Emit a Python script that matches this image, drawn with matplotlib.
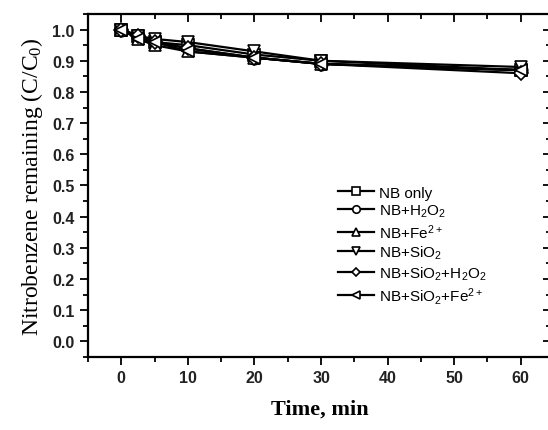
import numpy as np
import matplotlib
matplotlib.use("Agg")
import matplotlib.pyplot as plt
from matplotlib.ticker import MultipleLocator

# sampling times (min) and remaining fraction C/C0 for each run
time_min = [0, 2.5, 5, 10, 20, 30, 60]
nb_only = [1.00, 0.98, 0.96, 0.95, 0.92, 0.90, 0.87]
nb_h2o2 = [1.00, 0.98, 0.96, 0.94, 0.91, 0.89, 0.87]
nb_fe = [1.00, 0.97, 0.95, 0.93, 0.91, 0.89, 0.87]
nb_sio2 = [1.00, 0.98, 0.97, 0.96, 0.93, 0.90, 0.88]
nb_sio2_h2o2 = [1.00, 0.98, 0.96, 0.94, 0.91, 0.89, 0.86]
nb_sio2_fe = [1.00, 0.97, 0.96, 0.93, 0.91, 0.89, 0.87]

labels = [
    "NB only",
    r"NB+H$_2$O$_2$",
    r"NB+Fe$^{2+}$",
    r"NB+SiO$_2$",
    r"NB+SiO$_2$+H$_2$O$_2$",
    r"NB+SiO$_2$+Fe$^{2+}$",
]
series = [nb_only, nb_h2o2, nb_fe, nb_sio2, nb_sio2_h2o2, nb_sio2_fe]
markers = ["s", "o", "^", "v", "D", "<"]

plt.rcParams["mathtext.default"] = "regular"

fig = plt.figure(figsize=(5.48, 4.31), dpi=100)
ax = fig.add_axes([0.1606, 0.1694, 0.8394 + 0.005, 0.7958])

for y, m, lab in zip(series, markers, labels):
    ax.plot(time_min, y, color="black", lw=1.6, marker=m, ms=9 if m != "D" else 7.5,
            mfc="white", mec="black", mew=1.2, label=lab)

ax.set_xlim(-5, 64.5)
ax.set_ylim(-0.05, 1.05)
ax.xaxis.set_major_locator(MultipleLocator(10))
ax.xaxis.set_minor_locator(MultipleLocator(5))
ax.yaxis.set_major_locator(MultipleLocator(0.1))
ax.yaxis.set_minor_locator(MultipleLocator(0.05))
ax.yaxis.set_major_formatter(plt.FuncFormatter(lambda v, p: "%.1f" % v))

ax.tick_params(which="both", direction="out", top=True, right=True, width=1.3)
ax.tick_params(which="major", length=6)
ax.tick_params(which="minor", length=3.5)
# ticks on the top and right spines point into the plot
for t in ax.xaxis.get_ticklines(minor=False)[1::2] + ax.xaxis.get_ticklines(minor=True)[1::2]:
    t.set_marker(3)
for t in ax.yaxis.get_ticklines(minor=False)[1::2] + ax.yaxis.get_ticklines(minor=True)[1::2]:
    t.set_marker(0)
for s in ax.spines.values():
    s.set_linewidth(1.6)

for lab in ax.get_xticklabels() + ax.get_yticklabels():
    lab.set_fontfamily("Liberation Sans")
    lab.set_fontweight("bold")
    lab.set_fontsize(11.5)
    lab.set_color("#222222")

ax.set_xlabel("Time, min", fontfamily="Liberation Serif", fontweight="bold",
              fontsize=16, labelpad=10)
ax.set_ylabel("Nitrobenzene remaining (C/C$_0$)", fontfamily="Liberation Serif",
              fontsize=17, labelpad=5)

leg = ax.legend(loc="upper left", bbox_to_anchor=(0.51, 0.54), frameon=False,
                prop={"family": "Liberation Sans", "size": 11},
                handlelength=2.4, labelspacing=0.2, handletextpad=0.3,
                markerscale=0.6)

fig.savefig("out.png", dpi=100)
